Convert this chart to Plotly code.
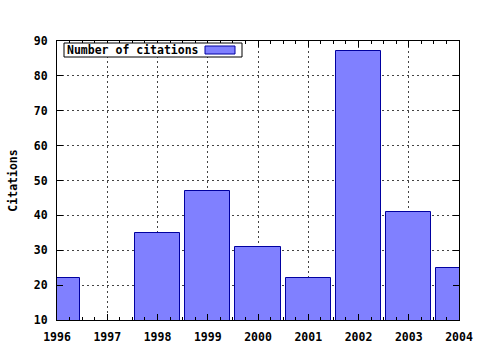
import plotly.graph_objects as go

years = [1996, 1997, 1998, 1999, 2000, 2001, 2002, 2003, 2004]
citations = [22, 0, 35, 47, 31, 22, 87, 41, 25]
y_ticks = [10, 20, 30, 40, 50, 60, 70, 80, 90]
series_name = "Number of citations"

W, H = 480, 350
L, R, T, B = 57, 21, 41, 30
pw, ph = W - L - R, H - T - B

def px(x):
    return (x - L) / pw

def py(y):
    return (H - B - y) / ph

font = dict(family="DejaVu Sans Mono", size=11.5, color="black", weight="bold")

fig = go.Figure()
fig.add_trace(go.Bar(
    x=years, y=citations, width=0.9, name=series_name,
    marker=dict(color="#8080ff", line=dict(color="#0000a0", width=1)),
    showlegend=False,
))

axis_common = dict(
    showline=True, linecolor="black", linewidth=1, mirror="ticks",
    ticks="inside", ticklen=6, tickcolor="black",
    showgrid=True, gridcolor="#444444", gridwidth=1, griddash="2px,3px",
    zeroline=False, tickfont=font, automargin=False,
)

fig.update_layout(
    width=W, height=H,
    margin=dict(l=L, r=R, t=T, b=B, pad=0, autoexpand=False),
    paper_bgcolor="white", plot_bgcolor="white",
    font=font,
    bargap=0,
    xaxis=dict(range=[1996, 2004], tickvals=years, ticktext=[str(y) for y in years],
               ticklabelstandoff=6,
               minor=dict(dtick=0.25, tick0=1996, ticks="inside", ticklen=3,
                          tickcolor="black", showgrid=False),
               **axis_common),
    yaxis=dict(range=[10, 90], tickvals=y_ticks, ticktext=[str(v) for v in y_ticks],
               ticklabelstandoff=6,
               title=dict(text="Citations", font=font, standoff=13),
               **axis_common),
)

# legend box (gnuplot style: text on left, sample on right)
fig.add_shape(type="rect", xref="paper", yref="paper",
              x0=px(64), x1=px(242), y0=py(57), y1=py(43),
              line=dict(color="black", width=1), fillcolor="white", layer="above")
fig.add_annotation(xref="paper", yref="paper", x=px(65), y=py(50),
                   xanchor="left", yanchor="middle", showarrow=False,
                   text=series_name, font=font)
fig.add_shape(type="rect", xref="paper", yref="paper",
              x0=px(205), x1=px(235), y0=py(54), y1=py(46),
              line=dict(color="#0000a0", width=1), fillcolor="#8080ff", layer="above")

fig.write_html("out.html")
